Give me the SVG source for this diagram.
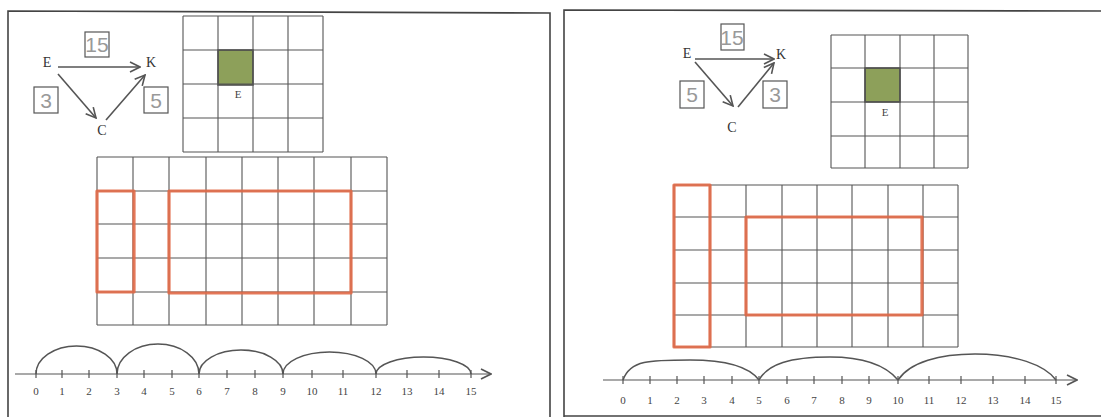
<svg xmlns="http://www.w3.org/2000/svg" width="1101" height="417" viewBox="0 0 1101 417">
<defs>
<style>
.frame{fill:none;stroke:#444;stroke-width:1.6}
.grid{fill:none;stroke:#555;stroke-width:1.1}
.green{fill:#8da05a;stroke:#444;stroke-width:1.5}
.red{fill:none;stroke:#e26a48;stroke-width:3.2;stroke-linejoin:round;opacity:0.9}
.lbl{font-family:"Liberation Serif",serif;font-size:14px;fill:#333;text-anchor:middle}
.small{font-family:"Liberation Serif",serif;font-size:11px;fill:#444;text-anchor:middle}
.box{fill:none;stroke:#555;stroke-width:1.2}
.hand{font-family:"Liberation Sans",sans-serif;font-size:21px;fill:#999;text-anchor:middle}
.conn{fill:none;stroke:#555;stroke-width:1.6}
.axis{fill:none;stroke:#555;stroke-width:1.2}
.jump{fill:none;stroke:#555;stroke-width:1.5}
</style>
<marker id="arr" viewBox="0 0 12 12" refX="11" refY="6" markerWidth="12" markerHeight="12" markerUnits="userSpaceOnUse" orient="auto">
<polyline points="1,1 11,6 1,11" fill="none" stroke="#555" stroke-width="1.6"/>
</marker>
</defs>
<rect width="1101" height="417" fill="#ffffff"/>

<!-- Frames -->
<path class="frame" d="M8,420 L8,11 L550,13 L550,420"/>
<path class="frame" d="M564,420 L564,416 M564,416 L1102,416 M564,416 L564,10 L1102,11"/>

<!-- LEFT PANEL -->
<g id="left-nodes">
<g id="L-E"><text class="lbl" x="47" y="67">E</text></g>
<g id="L-K"><text class="lbl" x="151" y="67">K</text></g>
<g id="L-C"><text class="lbl" x="102" y="135">C</text></g>
<g id="L-w15"><rect class="box" x="85" y="32" width="24" height="25"/><text class="hand" x="97" y="52">15</text></g>
<g id="L-w3"><rect class="box" x="34" y="87" width="24" height="26"/><text class="hand" x="46" y="108">3</text></g>
<g id="L-w5"><rect class="box" x="144" y="87" width="24" height="26"/><text class="hand" x="156" y="108">5</text></g>
</g>
<g id="left-connectors">
<line class="conn" x1="58" y1="67" x2="140" y2="67" marker-end="url(#arr)"/>
<line class="conn" x1="58" y1="74" x2="96" y2="118" marker-end="url(#arr)"/>
<line class="conn" x1="106" y1="120" x2="145" y2="75" marker-end="url(#arr)"/>
</g>

<g id="left-small-grid">
<rect class="green" x="218" y="50" width="35" height="35"/>
<path class="grid" d="M183,16H323M183,50H323M183,84H323M183,118H323M183,152H323M183,16V152M218,16V152M253,16V152M288,16V152M323,16V152"/>
<text class="small" x="238" y="98">E</text>
</g>

<g id="left-big-grid">
<path class="grid" d="M97,157H387M97,191H387M97,224H387M97,258H387M97,292H387M97,325H387M97,157V325M133,157V325M169,157V325M206,157V325M242,157V325M278,157V325M314,157V325M351,157V325M387,157V325"/>
<rect class="red" x="97" y="191" width="37" height="101"/>
<rect class="red" x="169" y="191" width="182" height="102"/>
</g>

<g id="left-numberline">
<line class="axis" x1="15" y1="374" x2="491" y2="374" marker-end="url(#arr)"/>
<path class="axis" d="M36,370V378M62,370V378M89,370V378M117,370V378M144,370V378M172,370V378M199,370V378M227,370V378M255,370V378M283,370V378M312,370V378M343,370V378M376,370V378M407,370V378M439,370V378M471,370V378"/>
<g>
<text class="small" x="36" y="395">0</text><text class="small" x="62" y="395">1</text><text class="small" x="89" y="395">2</text><text class="small" x="117" y="395">3</text><text class="small" x="144" y="395">4</text><text class="small" x="172" y="395">5</text><text class="small" x="199" y="395">6</text><text class="small" x="227" y="395">7</text><text class="small" x="255" y="395">8</text><text class="small" x="283" y="395">9</text><text class="small" x="312" y="395">10</text><text class="small" x="343" y="395">11</text><text class="small" x="376" y="395">12</text><text class="small" x="407" y="395">13</text><text class="small" x="439" y="395">14</text><text class="small" x="471" y="395">15</text>
</g>
<path class="jump" d="M36,374 A40.5,28 0 0 1 117,374"/>
<path class="jump" d="M117,374 A41,30 0 0 1 199,374"/>
<path class="jump" d="M199,374 A42,24 0 0 1 283,374"/>
<path class="jump" d="M283,374 A46.5,22 0 0 1 376,374"/>
<path class="jump" d="M376,374 A47.5,17 0 0 1 471,374"/>
</g>

<!-- RIGHT PANEL -->
<g id="right-nodes">
<g id="R-E"><text class="lbl" x="687" y="58">E</text></g>
<g id="R-K"><text class="lbl" x="781" y="59">K</text></g>
<g id="R-C"><text class="lbl" x="732" y="132">C</text></g>
<g id="R-w15"><rect class="box" x="721" y="24" width="23" height="26"/><text class="hand" x="732" y="45">15</text></g>
<g id="R-w5"><rect class="box" x="680" y="81" width="24" height="27"/><text class="hand" x="692" y="102">5</text></g>
<g id="R-w3"><rect class="box" x="763" y="81" width="24" height="27"/><text class="hand" x="775" y="102">3</text></g>
</g>
<g id="right-connectors">
<line class="conn" x1="695" y1="59" x2="774" y2="59" marker-end="url(#arr)"/>
<line class="conn" x1="695" y1="62" x2="733" y2="106" marker-end="url(#arr)"/>
<line class="conn" x1="738" y1="107" x2="774" y2="63" marker-end="url(#arr)"/>
</g>

<g id="right-small-grid">
<rect class="green" x="865" y="68" width="35" height="34"/>
<path class="grid" d="M831,35H968M831,68H968M831,102H968M831,136H968M831,168H968M831,35V168M865,35V168M900,35V168M934,35V168M968,35V168"/>
<text class="small" x="885" y="116">E</text>
</g>

<g id="right-big-grid">
<path class="grid" d="M674,185H958M674,217H958M674,250H958M674,283H958M674,315H958M674,347H958M674,185V347M710,185V347M746,185V347M782,185V347M817,185V347M852,185V347M888,185V347M923,185V347M958,185V347"/>
<rect class="red" x="674" y="185" width="36" height="162"/>
<rect class="red" x="746" y="217" width="176" height="98"/>
</g>

<g id="right-numberline">
<line class="axis" x1="603" y1="380" x2="1077" y2="380" marker-end="url(#arr)"/>
<path class="axis" d="M623,376V384M650,376V384M677,376V384M704,376V384M732,376V384M759,376V384M787,376V384M814,376V384M842,376V384M869,376V384M898,376V384M929,376V384M961,376V384M993,376V384M1025,376V384M1056,376V384"/>
<g>
<text class="small" x="623" y="404">0</text><text class="small" x="650" y="404">1</text><text class="small" x="677" y="404">2</text><text class="small" x="704" y="404">3</text><text class="small" x="732" y="404">4</text><text class="small" x="759" y="404">5</text><text class="small" x="787" y="404">6</text><text class="small" x="814" y="404">7</text><text class="small" x="842" y="404">8</text><text class="small" x="869" y="404">9</text><text class="small" x="898" y="404">10</text><text class="small" x="929" y="404">11</text><text class="small" x="961" y="404">12</text><text class="small" x="993" y="404">13</text><text class="small" x="1025" y="404">14</text><text class="small" x="1056" y="404">15</text>
</g>
<path class="jump" d="M623,380 C630,360 650,360 690,360 C730,360 750,368 759,380"/>
<path class="jump" d="M759,380 C768,364 790,357 830,357 C870,357 888,368 898,380"/>
<path class="jump" d="M898,380 C910,362 940,354 975,354 C1015,354 1045,365 1056,380"/>
</g>
</svg>
